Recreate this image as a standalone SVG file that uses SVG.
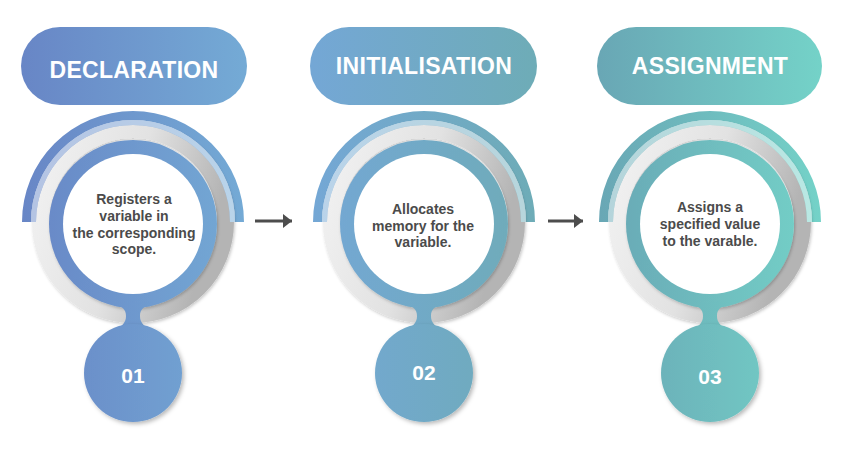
<svg xmlns="http://www.w3.org/2000/svg" width="849" height="458" viewBox="0 0 849 458">
<defs>
  <linearGradient id="g1" gradientUnits="userSpaceOnUse" x1="22" y1="0" x2="244" y2="0">
    <stop offset="0" stop-color="#6886c6"/><stop offset="1" stop-color="#74aad5"/>
  </linearGradient>
  <linearGradient id="g2" gradientUnits="userSpaceOnUse" x1="313" y1="0" x2="535" y2="0">
    <stop offset="0" stop-color="#74a7d5"/><stop offset="1" stop-color="#6eacb7"/>
  </linearGradient>
  <linearGradient id="g3" gradientUnits="userSpaceOnUse" x1="599" y1="0" x2="821" y2="0">
    <stop offset="0" stop-color="#69a7b5"/><stop offset="1" stop-color="#74d2c8"/>
  </linearGradient>
  <linearGradient id="grey" x1="0" y1="0" x2="1" y2="0.3">
    <stop offset="0" stop-color="#f2f2f2"/><stop offset="0.55" stop-color="#e2e2e2"/><stop offset="1" stop-color="#b4b4b4"/>
  </linearGradient>
  <filter id="sh" x="-20%" y="-20%" width="140%" height="140%">
    <feDropShadow dx="2" dy="2" stdDeviation="2" flood-color="#000" flood-opacity="0.28"/>
  </filter>
  <filter id="shs" x="-20%" y="-20%" width="140%" height="140%">
    <feDropShadow dx="1" dy="1.5" stdDeviation="1.5" flood-color="#000" flood-opacity="0.22"/>
  </filter>
  <marker id="arr" markerUnits="userSpaceOnUse" markerWidth="12" markerHeight="14" refX="9" refY="7" orient="auto">
    <path d="M0,0 L9,7 L0,14 Z" fill="#4d4d4d"/>
  </marker>
  <style>
    .pill-t{font-family:"Liberation Sans",Arial,sans-serif;font-weight:700;font-size:23px;fill:#ffffff;text-anchor:middle;letter-spacing:0.3px}
    .body-t{font-family:"Liberation Sans",Arial,sans-serif;font-weight:700;font-size:14px;fill:#4b4b4b;text-anchor:middle}
    .num-t{font-family:"Liberation Sans",Arial,sans-serif;font-weight:700;font-size:21px;fill:#ffffff;text-anchor:middle}
    .grey{fill:none;stroke:url(#grey);stroke-width:17}
    .strip{fill:#ffffff;fill-opacity:0.5}
    .white{fill:#ffffff}
    .conn{stroke:#4d4d4d;stroke-width:3;fill:none}
  </style>
</defs>

<g id="node1">
  <rect x="21" y="27" width="226" height="78" rx="39" fill="url(#g1)"/>
  <text class="pill-t" x="134" y="78">DECLARATION</text>
  <path d="M22,222 A111,111 0 0 1 244,222 L235,222 A102,102 0 0 0 31,222 Z" fill="url(#g1)"/>
  <circle class="grey" cx="133" cy="222" r="92.5" filter="url(#shs)"/>
  <path d="M31,222 A102,102 0 0 1 235,222 L230,222 A97,97 0 0 0 36,222 Z" fill="url(#g1)"/>
  <path class="strip" d="M31,222 A102,102 0 0 1 235,222 L230,222 A97,97 0 0 0 36,222 Z"/>
  <circle cx="133" cy="224" r="84" fill="url(#g1)" filter="url(#shs)"/>
  <path d="M111,302 C123,306 126,310 126,316 C126,322 123,326 113,331 L153,331 C143,326 140,322 140,316 C140,310 143,306 155,302 Z" fill="url(#g1)"/>
  <circle cx="133" cy="373" r="49" fill="url(#g1)" filter="url(#sh)"/>
  <circle class="white" cx="133" cy="224" r="70"/>
  <text class="body-t" x="134" y="204">Registers a</text>
  <text class="body-t" x="134" y="221">variable in</text>
  <text class="body-t" x="134" y="238">the corresponding</text>
  <text class="body-t" x="134" y="254">scope.</text>
  <text class="num-t" x="133" y="383">01</text>
</g>

<g id="node2">
  <rect x="310" y="27" width="227" height="78" rx="39" fill="url(#g2)"/>
  <text class="pill-t" x="424" y="74">INITIALISATION</text>
  <path d="M313,222 A111,111 0 0 1 535,222 L526,222 A102,102 0 0 0 322,222 Z" fill="url(#g2)"/>
  <circle class="grey" cx="424" cy="222" r="92.5" filter="url(#shs)"/>
  <path d="M322,222 A102,102 0 0 1 526,222 L521,222 A97,97 0 0 0 327,222 Z" fill="url(#g2)"/>
  <path class="strip" d="M322,222 A102,102 0 0 1 526,222 L521,222 A97,97 0 0 0 327,222 Z"/>
  <circle cx="424" cy="224" r="84" fill="url(#g2)" filter="url(#shs)"/>
  <path d="M402,302 C414,306 417,310 417,316 C417,322 414,326 404,331 L444,331 C434,326 431,322 431,316 C431,310 434,306 446,302 Z" fill="url(#g2)"/>
  <circle cx="424" cy="373" r="49" fill="url(#g2)" filter="url(#sh)"/>
  <circle class="white" cx="424" cy="224" r="70"/>
  <text class="body-t" x="423" y="214">Allocates</text>
  <text class="body-t" x="423" y="231">memory for the</text>
  <text class="body-t" x="423" y="247">variable.</text>
  <text class="num-t" x="424" y="380">02</text>
</g>

<g id="node3">
  <rect x="597" y="27" width="225" height="78" rx="39" fill="url(#g3)"/>
  <text class="pill-t" x="710" y="74">ASSIGNMENT</text>
  <path d="M599,222 A111,111 0 0 1 821,222 L812,222 A102,102 0 0 0 608,222 Z" fill="url(#g3)"/>
  <circle class="grey" cx="710" cy="222" r="92.5" filter="url(#shs)"/>
  <path d="M608,222 A102,102 0 0 1 812,222 L807,222 A97,97 0 0 0 613,222 Z" fill="url(#g3)"/>
  <path class="strip" d="M608,222 A102,102 0 0 1 812,222 L807,222 A97,97 0 0 0 613,222 Z"/>
  <circle cx="710" cy="224" r="84" fill="url(#g3)" filter="url(#shs)"/>
  <path d="M688,302 C700,306 703,310 703,316 C703,322 700,326 690,331 L730,331 C720,326 717,322 717,316 C717,310 720,306 732,302 Z" fill="url(#g3)"/>
  <circle cx="710" cy="373" r="49" fill="url(#g3)" filter="url(#sh)"/>
  <circle class="white" cx="710" cy="224" r="70"/>
  <text class="body-t" x="710" y="212">Assigns a</text>
  <text class="body-t" x="710" y="229">specified value</text>
  <text class="body-t" x="710" y="246">to the varable.</text>
  <text class="num-t" x="710" y="384">03</text>
</g>

<g id="connectors">
  <line class="conn" x1="255" y1="221" x2="292" y2="221" marker-end="url(#arr)"/>
  <line class="conn" x1="548" y1="221" x2="583" y2="221" marker-end="url(#arr)"/>
</g>
</svg>
